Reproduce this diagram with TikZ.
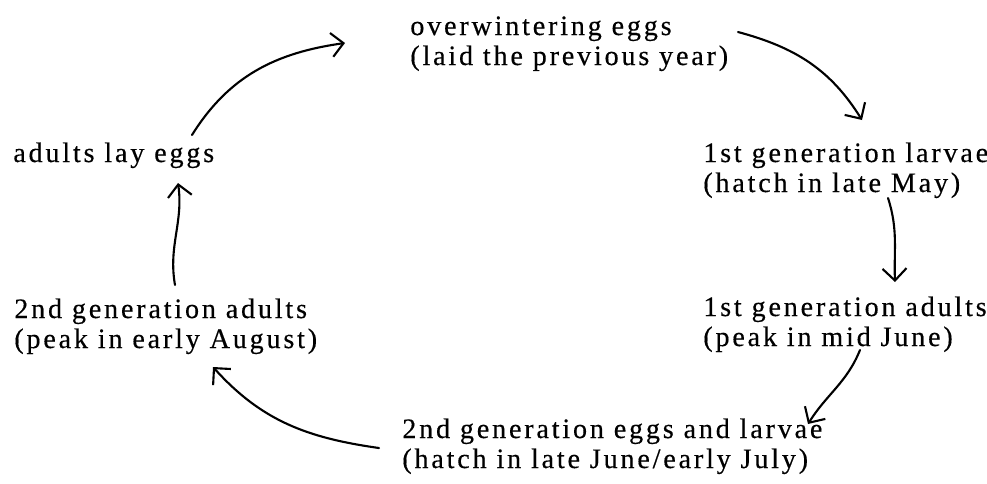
\documentclass[tikz,border=0pt]{standalone}
\usepackage{fontspec}
\setmainfont{Liberation Serif}[LetterSpace=10,FakeBold=0.4]
\usepackage{xcolor}
\usepackage{tikz}
\usetikzlibrary{arrows.meta}
\usetikzlibrary{positioning}
\tikzset{
    stage/.style = {align=left, inner sep=0pt, anchor=base west, font=\fontsize{16}{17.07}\selectfont},
    cycarrow/.style = {-{Straight Barb[length=2.4mm,width=4.8mm]}, line width=1.2pt, line cap=round}
}
\begin{document}
\begin{tikzpicture}
\useasboundingbox (0,0) rectangle (19.74,-9.66);
\node[stage] at (8.20,-1.30) (eggs) {overwintering eggs\\(laid the previous year)};
\node[stage] at (14.06,-3.84) (larvae) {1st generation larvae\\(hatch in late May)};
\node[stage] at (14.06,-6.92) (adults) {1st generation adults\\(peak in mid June)};
\node[stage] at (8.04,-9.36) (eggsb) {2nd generation eggs and larvae\\(hatch in late June/early July)};
\node[stage] at (0.28,-6.96) (adultsb) {2nd generation adults\\(peak in early August)};
\node[stage] at (0.26,-3.24) (lay) {adults lay eggs};
%
\draw[cycarrow] ([shift={(3.58,0.54)}]lay.base west) to[out=58,in=188] ([shift={(-1.30,0.44)}]eggs.base west);
\draw[cycarrow] ([shift={(6.56,0.66)}]eggs.base west) to[out=-15,in=122] ([shift={(3.18,1.44)}]larvae.base west);
\draw[cycarrow] ([shift={(3.70,-0.12)}]larvae.base west) to[out=-72,in=92] ([shift={(3.84,1.28)}]adults.base west);
\draw[cycarrow] ([shift={(3.14,-0.08)}]adults.base west) to[out=-112,in=58] ([shift={(8.12,0.88)}]eggsb.base west);
\draw[cycarrow] ([shift={(-0.46,0.40)}]eggsb.base west) to[out=172,in=-48] ([shift={(3.98,-0.38)}]adultsb.base west);
\draw[cycarrow] ([shift={(3.22,1.26)}]adultsb.base west) to[out=100,in=-82] ([shift={(3.30,-0.42)}]lay.base west);
\end{tikzpicture}
\end{document}
